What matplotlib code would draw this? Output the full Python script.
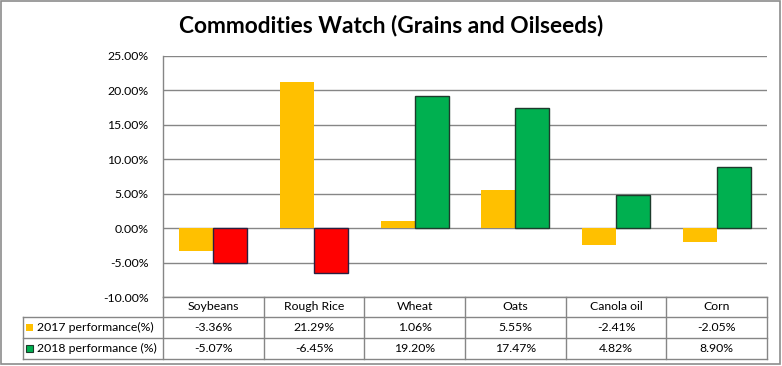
import numpy as np
import matplotlib
matplotlib.use("Agg")
import matplotlib.pyplot as plt
from matplotlib.lines import Line2D
from matplotlib.patches import Rectangle

categories = ["Soybeans", "Rough Rice", "Wheat", "Oats", "Canola oil", "Corn"]
perf_2017 = [-3.36, 21.29, 1.06, 5.55, -2.41, -2.05]
perf_2018 = [-5.07, -6.45, 19.20, 17.47, 4.82, 8.90]
series_names = ["2017 performance(%)", "2018 performance (%)"]
yticks = [-10, -5, 0, 5, 10, 15, 20, 25]
title = "Commodities Watch (Grains and Oilseeds)"

plt.rcParams['font.family'] = ['Lato', 'DejaVu Sans']

W, H = 782, 366
fig = plt.figure(figsize=(W / 100, H / 100), dpi=100)

def fx(px):
    return px / W

def fy(py):
    return 1 - py / H

ax_l, ax_r, ax_t, ax_b = 163, 767, 56, 297
ax = fig.add_axes([fx(ax_l), fy(ax_b), fx(ax_r - ax_l), fy(ax_t) - fy(ax_b)])

YELLOW = "#FFC000"
GREEN = "#00B050"
RED = "#FF0000"
GRID = "#868686"

x = np.arange(len(categories))
bw = 0.338
ax.bar(x - bw / 2, perf_2017, width=bw, color=YELLOW, zorder=3)
cols2018 = [GREEN if v >= 0 else RED for v in perf_2018]
edges2018 = ["#1d3b2c" if v >= 0 else "#2a1f3f" for v in perf_2018]
ax.bar(x + bw / 2, perf_2018, width=bw, color=cols2018, edgecolor=edges2018,
       linewidth=1.0, zorder=3)

ax.set_xlim(-0.5, len(categories) - 0.5)
ax.set_ylim(-10, 25)
ax.set_yticks(yticks)
ax.set_yticklabels([f"{v:.2f}%" for v in yticks], fontsize=8.8)
ax.tick_params(axis='y', length=0, pad=10.5)
ax.set_xticks([])
ax.yaxis.grid(True, color=GRID, linewidth=1.0, zorder=0)
for s in ["top", "right", "bottom"]:
    ax.spines[s].set_visible(False)
ax.spines["left"].set_color(GRID)
ax.spines["left"].set_linewidth(1.0)

# Title
fig.text(0.5, fy(25), title, ha="center", va="center", fontsize=16.3, fontweight="bold")

# Outer border
fig.add_artist(Rectangle((fx(1), fy(364)), fx(779), fy(1) - fy(364), transform=fig.transFigure,
                         fill=False, edgecolor="#8c8c8c", linewidth=1.2))

# Data table
rows_y = [297, 317, 338, 359]
leg_l = 23
ncat = len(categories)
col_x = [ax_l + i * (ax_r - ax_l) / ncat for i in range(ncat + 1)]

def hline(x0, x1, y):
    fig.add_artist(Line2D([fx(x0), fx(x1)], [fy(y), fy(y)], transform=fig.transFigure,
                          color=GRID, linewidth=1.0))

def vline(xp, y0, y1):
    fig.add_artist(Line2D([fx(xp), fx(xp)], [fy(y0), fy(y1)], transform=fig.transFigure,
                          color=GRID, linewidth=1.0))

hline(ax_l, ax_r, rows_y[0])
for y in rows_y[1:]:
    hline(leg_l, ax_r, y)
for xp in col_x:
    vline(xp, rows_y[0], rows_y[3])
vline(leg_l, rows_y[1], rows_y[3])

fs = 8.8
for i, c in enumerate(categories):
    cx = (col_x[i] + col_x[i + 1]) / 2
    fig.text(fx(cx), fy((rows_y[0] + rows_y[1]) / 2), c, ha="center", va="center", fontsize=fs)
    fig.text(fx(cx), fy((rows_y[1] + rows_y[2]) / 2), f"{perf_2017[i]:.2f}%", ha="center", va="center", fontsize=fs)
    fig.text(fx(cx), fy((rows_y[2] + rows_y[3]) / 2), f"{perf_2018[i]:.2f}%", ha="center", va="center", fontsize=fs)

key_cols = [(YELLOW, "none"), (GREEN, "#1d3b2c")]
for r, (name, (fc, ec)) in enumerate(zip(series_names, key_cols)):
    yc = (rows_y[r + 1] + rows_y[r + 2]) / 2
    fig.add_artist(Rectangle((fx(26), fy(yc + 3.5)), fx(7), fy(yc - 3.5) - fy(yc + 3.5),
                             transform=fig.transFigure, facecolor=fc, edgecolor=ec, linewidth=0.8))
    fig.text(fx(37), fy(yc), name, ha="left", va="center", fontsize=fs)

fig.savefig("out.png", dpi=100)
